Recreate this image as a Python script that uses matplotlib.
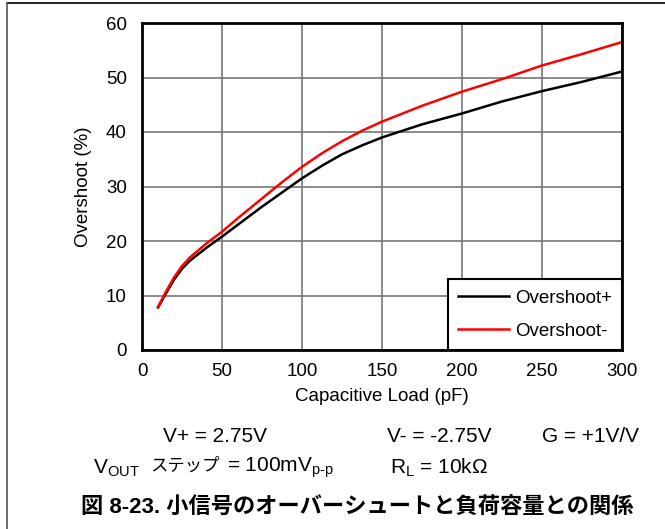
import matplotlib
matplotlib.use("Agg")
import matplotlib.pyplot as plt
from matplotlib.lines import Line2D

plt.rcParams["font.family"] = ["Liberation Sans", "Noto Sans CJK JP", "DejaVu Sans"]
plt.rcParams["mathtext.fontset"] = "custom"
plt.rcParams["mathtext.rm"] = "Liberation Sans"
plt.rcParams["mathtext.it"] = "Liberation Sans"

# 読み取った値 (pF, %)
cap_load = [10, 15, 20, 25, 30, 40, 50, 60, 75, 88, 100, 113, 125, 138, 150,
            175, 200, 225, 250, 275, 300]
overshoot_pos = [7.8, 10.4, 12.9, 14.9, 16.4, 18.7, 20.8, 23.0, 26.3, 29.0, 31.5, 33.9,
                 35.9, 37.6, 39.0, 41.4, 43.4, 45.6, 47.5, 49.2, 51.1]
overshoot_neg = [7.9, 10.7, 13.3, 15.4, 17.0, 19.5, 21.7, 24.2, 27.8, 30.9, 33.6, 36.2,
                 38.3, 40.3, 41.9, 44.8, 47.4, 49.7, 52.2, 54.3, 56.5]
x_ticks = [0, 50, 100, 150, 200, 250, 300]
y_ticks = [0, 10, 20, 30, 40, 50, 60]

fig = plt.figure(figsize=(6.65, 5.29), dpi=100)
ax = fig.add_axes([142/665, 1 - 350/529, 480/665, 327/529])

ax.plot(cap_load, overshoot_pos, color="black", lw=1.8, label="Overshoot+", zorder=3)
ax.plot(cap_load, overshoot_neg, color="#ff0000", lw=1.8, label="Overshoot-", zorder=3)

ax.set_xlim(0, 300)
ax.set_ylim(0, 60)
ax.set_xticks(x_ticks)
ax.set_yticks(y_ticks)
ax.grid(True, color="#777777", lw=1.2)
ax.tick_params(length=0, labelsize=13.5)
ax.tick_params(axis="y", pad=11)
ax.tick_params(axis="x", pad=9)
for s in ax.spines.values():
    s.set_linewidth(2)
    s.set_zorder(4)

ax.set_xlabel("Capacitive Load (pF)", fontsize=13.5, labelpad=6)
ax.set_ylabel("Overshoot (%)", fontsize=13.5, labelpad=10)

leg = ax.legend(loc="lower right", fontsize=13.5, fancybox=False, framealpha=1,
                edgecolor="black", borderaxespad=0, handlelength=2.7,
                handletextpad=0.3, labelspacing=0.85, borderpad=0.55)
leg.get_frame().set_linewidth(1.5)

# 条件テキスト
fig.text(215/665, 1 - 436/529, "V+ = 2.75V", fontsize=15, ha="center", va="center")
fig.text(439/665, 1 - 436/529, "V- = -2.75V", fontsize=15, ha="center", va="center")
fig.text(590/665, 1 - 436/529, "G = +1V/V", fontsize=15, ha="center", va="center")
fig.text(93/665, 1 - 468/529, r"V$_\mathrm{OUT}$", fontsize=15, ha="left", va="center")
fig.text(150/665, 1 - 466/529, "ステップ", fontsize=12.5, ha="left", va="center",
         family="Noto Sans CJK JP")
fig.text(227/665, 1 - 468/529, r"= 100mV$_\mathrm{p\text{-}p}$", fontsize=15,
         ha="left", va="center")
fig.text(390/665, 1 - 468/529, r"R$_\mathrm{L}$ = 10kΩ", fontsize=15, ha="left", va="center")
fig.text(357/665, 1 - 508/529, "図 8-23. 小信号のオーバーシュートと負荷容量との関係",
         fontsize=16, fontweight="bold", ha="center", va="center")

# 外枠
fig.add_artist(Line2D([7/665, 1], [1 - 3/529, 1 - 3/529], color="black", lw=1.2))
fig.add_artist(Line2D([7/665, 7/665], [0, 1 - 3/529], color="#555555", lw=1.2))

fig.savefig("out.png", dpi=100)
